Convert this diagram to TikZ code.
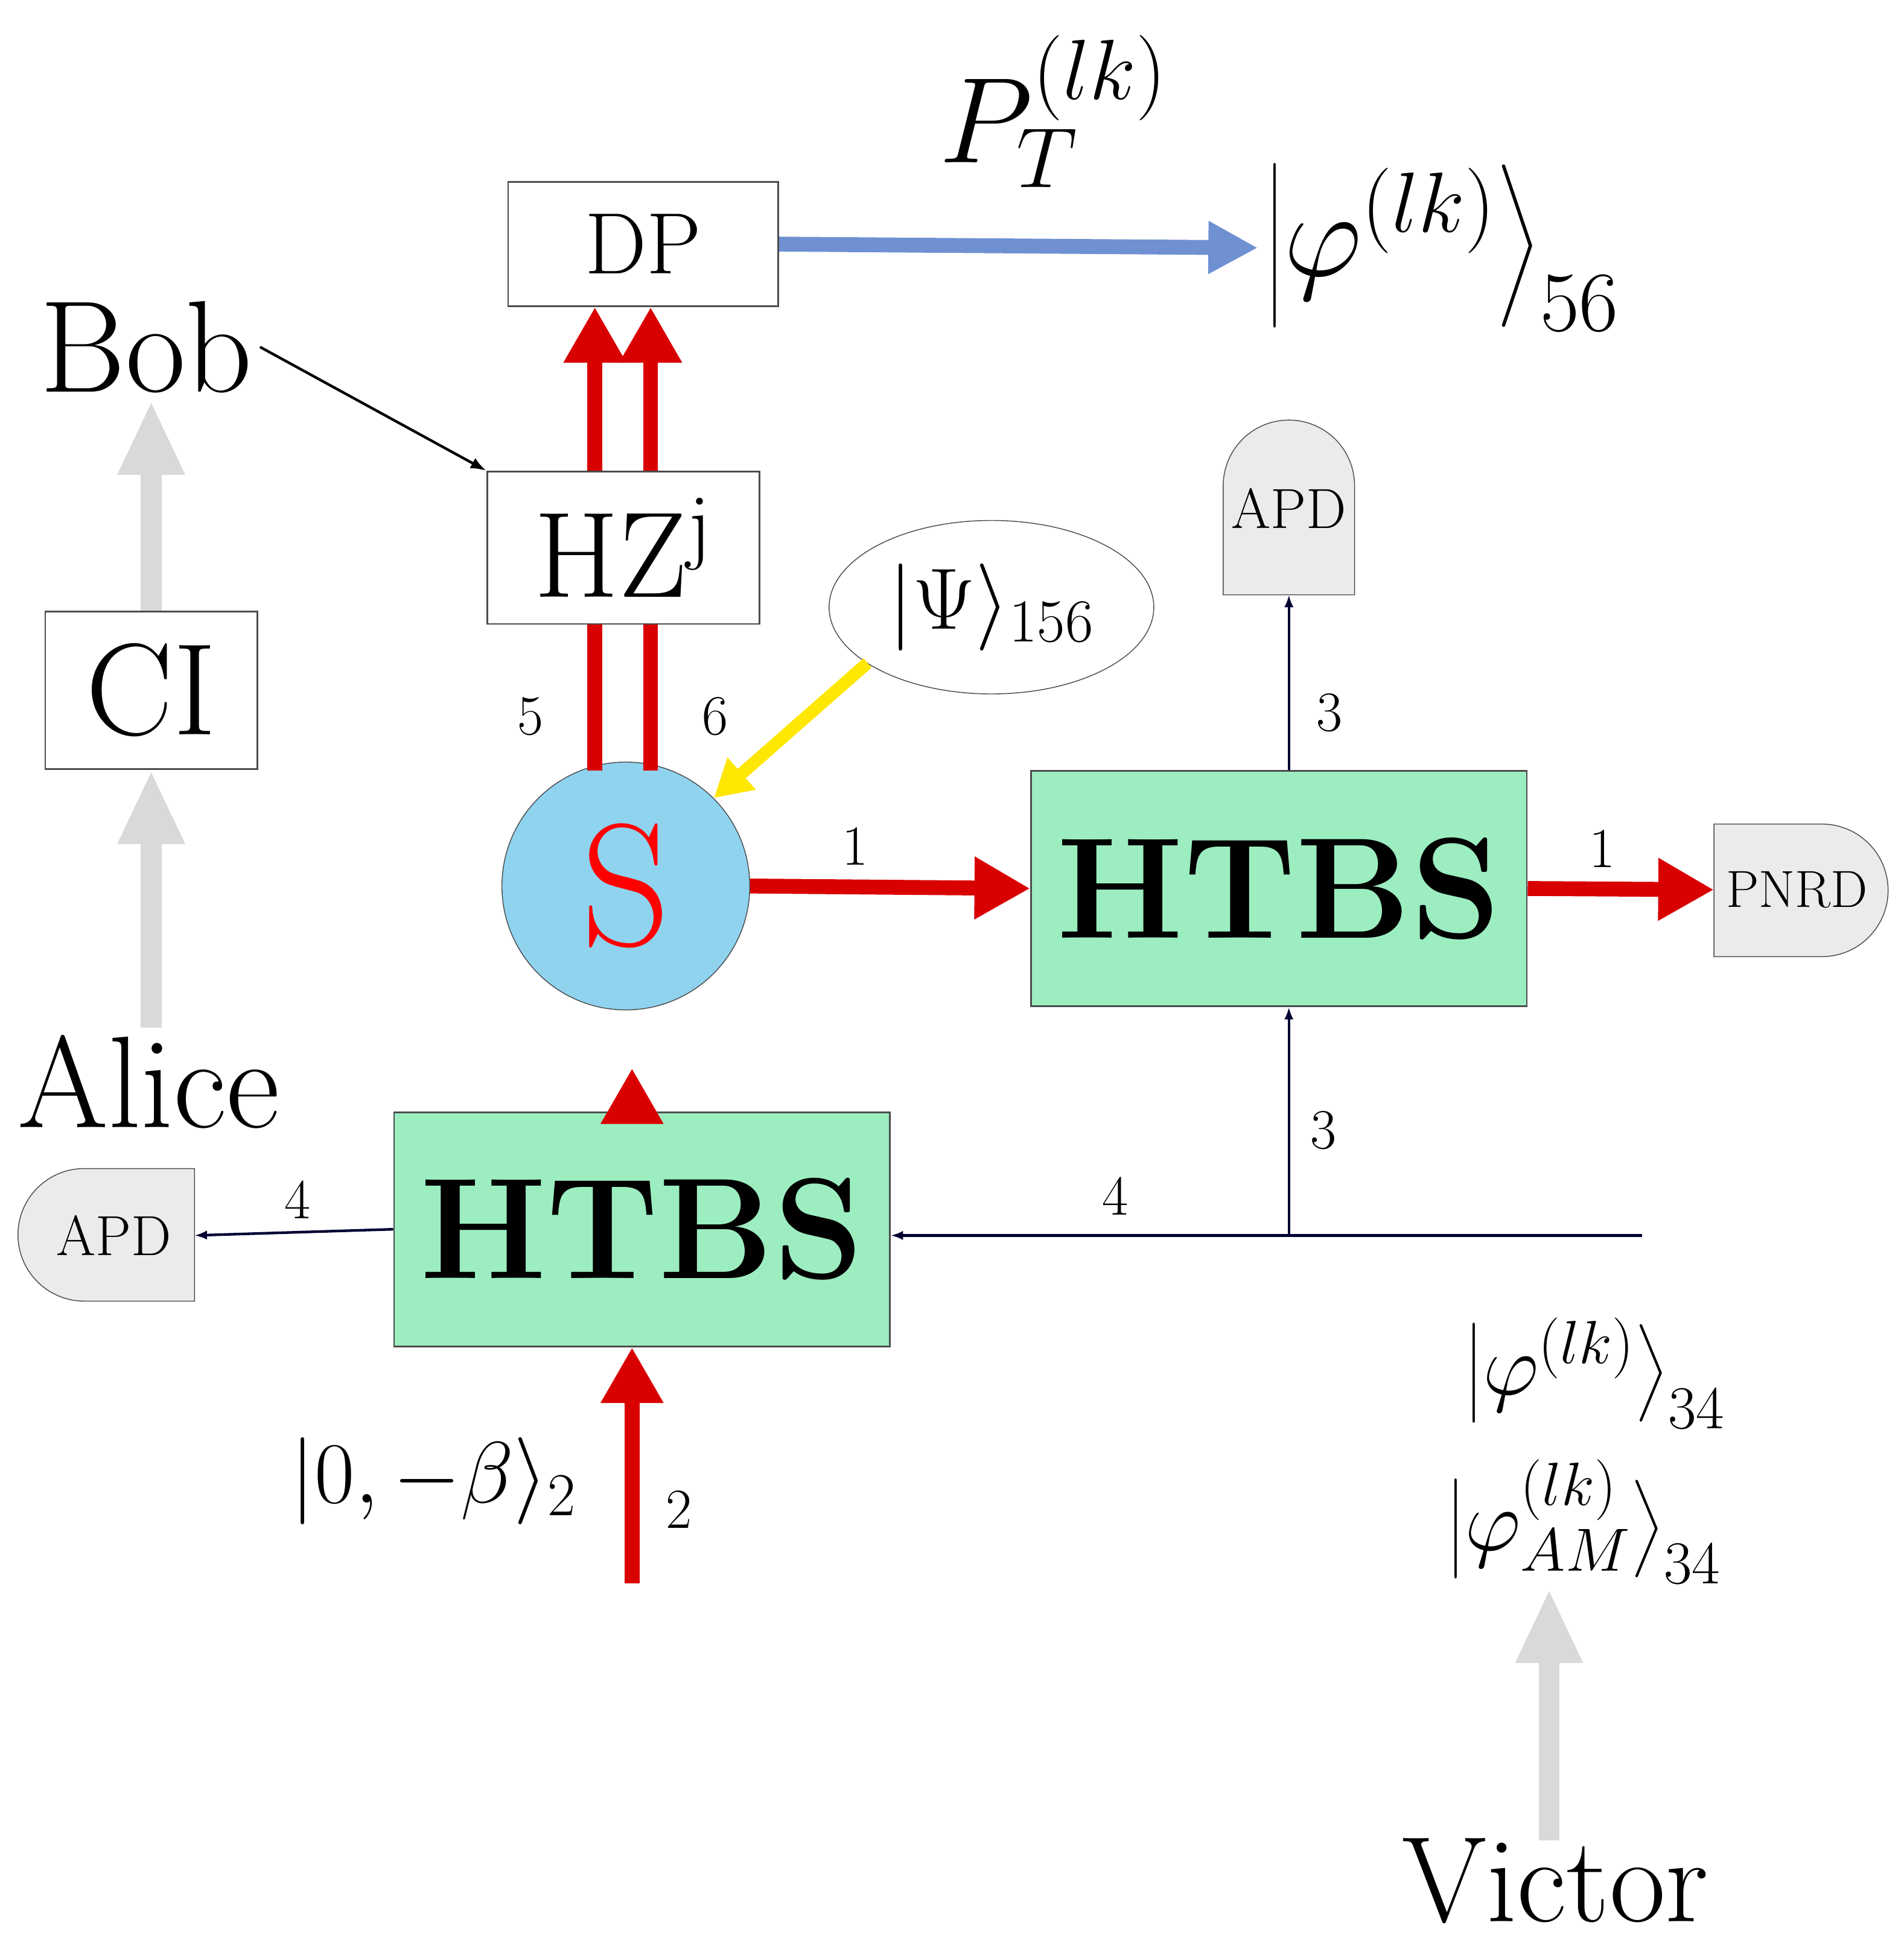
\RequirePackage{fix-cm}
\documentclass[tikz,border=0pt]{standalone}
\usepackage{amsmath}
\usetikzlibrary{arrows.meta,shapes.geometric}
\newcommand{\fs}[1]{\fontsize{#1}{#1}\selectfont}
\begin{document}
\begin{tikzpicture}[x=0.02cm,y=-0.02cm,
  box/.style={draw=black!70,fill=white,line width=0.8pt,inner sep=0pt},
  red arr/.style={draw=red!85!black,line width=0.24cm,-{Triangle[length=0.9cm,width=0.95cm]}},
  gray arr/.style={draw=black!15,line width=0.34cm,-{Triangle[length=1.2cm,width=1.0cm]}},
  thin arr/.style={draw=black!80!blue,line width=1.2pt,-{Latex[length=0.2cm]}},
  lbl/.style={font=\fs{26}}]
\useasboundingbox (0,0) rectangle (1536,1568);
\definecolor{htbsg}{HTML}{9CEDC0}
\definecolor{sblue}{HTML}{8FD3EE}
\definecolor{parr}{HTML}{6F91D2}
% boxes
\node[box,minimum width=218*0.02cm,minimum height=100*0.02cm,font=\fs{40}] (dp) at (519,197) {DP};
\node[box,minimum width=220*0.02cm,minimum height=123*0.02cm,font=\fs{56}] (hz) at (503,442) {HZ\textsuperscript{j}};
\node[box,minimum width=171*0.02cm,minimum height=127*0.02cm,font=\fs{60}] (ci) at (122,557) {CI};
\node[draw=black!70,line width=0.8pt,fill=htbsg,minimum width=400*0.02cm,minimum height=190*0.02cm,font=\fs{66}\bfseries] (h1) at (1032,717) {HTBS};
\node[draw=black!70,line width=0.8pt,fill=htbsg,minimum width=400*0.02cm,minimum height=189*0.02cm,font=\fs{66}\bfseries] (h2) at (518,992) {HTBS};
\node[circle,draw=black!70,fill=sblue,minimum size=200*0.02cm,inner sep=0pt,text=red,font=\fs{80}] (s) at (505,715) {S};
\node[ellipse,draw=black!70,fill=white,minimum width=262*0.02cm,minimum height=140*0.02cm,inner sep=0pt,font=\fs{40}] (psi) at (800,490) {$|\Psi\rangle_{156}$};
% detectors
\draw[draw=black!70,fill=black!8] (987,480) -- (987,392) arc (180:360:53) -- (1093,480) -- cycle;
\node[font=\fs{26}] (apd1) at (1040,410) {APD};
\draw[draw=black!70,fill=black!8] (1383,665) -- (1470,665) arc (-90:90:53.5) -- (1383,772) -- cycle;
\node[font=\fs{24}] (pnrd) at (1450,718) {PNRD};
\draw[draw=black!70,fill=black!8] (157,943) -- (68,943) arc (270:90:53.5) -- (157,1050) -- cycle;
\node[font=\fs{26}] (apd2) at (92,997) {APD};
% text
\node[font=\fs{60}] (bob) at (118,280) {Bob};
\node[font=\fs{60}] (alice) at (120,873) {Alice};
\node[font=\fs{56}] (victor) at (1255,1518) {Victor};
\node[font=\fs{56}] (pt) at (850,90) {$P_T^{(lk)}$};
\node[font=\fs{56},anchor=west] (phi56) at (1015,200) {$\bigl|\varphi^{(lk)}\bigr\rangle_{56}$};
\node[font=\fs{40}] (beta) at (350,1195) {$|0,-\beta\rangle_2$};
\node[font=\fs{40}] (phi34) at (1287,1108) {$\bigl|\varphi^{(lk)}\bigr\rangle_{34}$};
\node[font=\fs{40}] (am34) at (1278,1228) {$\bigl|\varphi_{AM}^{(lk)}\bigr\rangle_{34}$};
% coordinates
\coordinate (r1) at (1325,997);
\coordinate (j) at (1040,997);
\coordinate (src2) at (510,1278);
\coordinate (vict) at (1250,1485);
\coordinate (vtop) at (1250,1282);
% connectors
\draw[draw=parr,line width=0.24cm,-{Triangle[length=0.8cm,width=0.8cm]}] (dp.east) -- (phi56.west);
\draw[red arr] (hz.north -| 480,0) -- (dp.south -| 480,0);
\draw[red arr] (hz.north -| 525,0) -- (dp.south -| 525,0);
\draw[draw=red!85!black,line width=0.24cm] (480,622) -- (hz.south -| 480,0);
\draw[draw=red!85!black,line width=0.24cm] (525,622) -- (hz.south -| 525,0);
\draw[-{Latex[length=0.25cm]},line width=1.2pt] (bob.east) -- (hz.north west);
\draw[gray arr] (alice.north -| ci.south) -- (ci.south);
\draw[gray arr] (ci.north) -- (ci.north |- bob.south);
\draw[gray arr] (vict) -- (vtop);
\draw[draw=yellow!90!orange,line width=0.2cm,-{Triangle[length=0.6cm,width=0.65cm]}] (700,535) -- (s.north east);
\draw[red arr] (s.east) -- (h1.west);
\draw[red arr] (h1.east) -- (1383,718);
\draw[thin arr] (h1.north -| apd1) -- (1040,480);
\draw[red arr] (h2.north -| 510,0) -- (510,862);
\draw[thin arr] (h2.west) -- (157,997);
\draw[thin arr] (r1) -- (r1 -| h2.east);
\draw[thin arr] (j) -- (h1.south -| j);
\draw[red arr] (src2) -- (h2.south -| src2);
% labels
\node[lbl] at (428,578) {5};
\node[lbl] at (577,578) {6};
\node[lbl] at (690,683) {1};
\node[lbl] at (1293,685) {1};
\node[lbl] at (1073,575) {3};
\node[lbl] at (1068,912) {3};
\node[lbl] at (240,968) {4};
\node[lbl] at (900,965) {4};
\node[lbl] at (548,1218) {2};
\end{tikzpicture}
\end{document}
